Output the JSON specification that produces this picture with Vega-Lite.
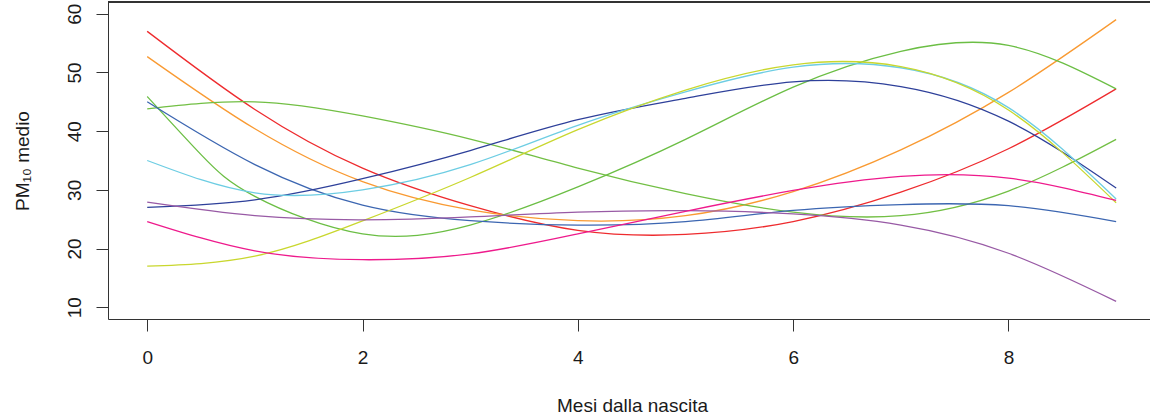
{
  "$schema": "https://vega.github.io/schema/vega-lite/v6.json",
  "width": 1042,
  "height": 317,
  "autosize": {"type": "none"},
  "padding": {"left": 108, "top": 2, "right": 0, "bottom": 100},
  "background": "white",
  "config": {
    "view": {"stroke": null},
    "font": "Liberation Sans",
    "axis": {
      "grid": false,
      "domainColor": "#333333",
      "domainWidth": 1,
      "tickColor": "#333333",
      "tickWidth": 1,
      "tickSize": 12,
      "labelColor": "#1a1a1a",
      "labelFontSize": 19,
      "titleColor": "#1a1a1a",
      "titleFontSize": 19,
      "titleFontWeight": "normal"
    }
  },
  "data": {
    "values": [
      {"serie": "c1", "mese": 0, "pm10": 57.0}, {"serie": "c1", "mese": 1, "pm10": 43.7}, {"serie": "c1", "mese": 2, "pm10": 33.7}, {"serie": "c1", "mese": 3, "pm10": 27.3}, {"serie": "c1", "mese": 4, "pm10": 23.1}, {"serie": "c1", "mese": 5, "pm10": 22.4}, {"serie": "c1", "mese": 6, "pm10": 24.6}, {"serie": "c1", "mese": 7, "pm10": 29.6}, {"serie": "c1", "mese": 8, "pm10": 37.0}, {"serie": "c1", "mese": 9, "pm10": 47.2},
      {"serie": "c2", "mese": 0, "pm10": 52.7}, {"serie": "c2", "mese": 1, "pm10": 40.4}, {"serie": "c2", "mese": 2, "pm10": 31.4}, {"serie": "c2", "mese": 3, "pm10": 26.6}, {"serie": "c2", "mese": 4, "pm10": 24.75}, {"serie": "c2", "mese": 5, "pm10": 25.6}, {"serie": "c2", "mese": 6, "pm10": 29.7}, {"serie": "c2", "mese": 7, "pm10": 36.8}, {"serie": "c2", "mese": 8, "pm10": 46.6}, {"serie": "c2", "mese": 9, "pm10": 59.0},
      {"serie": "c3", "mese": 0, "pm10": 45.9}, {"serie": "c3", "mese": 0.5, "pm10": 36.0}, {"serie": "c3", "mese": 1, "pm10": 28.9}, {"serie": "c3", "mese": 2, "pm10": 22.5}, {"serie": "c3", "mese": 3, "pm10": 24.0}, {"serie": "c3", "mese": 4, "pm10": 30.5}, {"serie": "c3", "mese": 5, "pm10": 38.6}, {"serie": "c3", "mese": 6, "pm10": 47.5}, {"serie": "c3", "mese": 7, "pm10": 53.6}, {"serie": "c3", "mese": 8, "pm10": 54.6}, {"serie": "c3", "mese": 9, "pm10": 47.2},
      {"serie": "c4", "mese": 0, "pm10": 43.8}, {"serie": "c4", "mese": 1, "pm10": 45.0}, {"serie": "c4", "mese": 2, "pm10": 42.6}, {"serie": "c4", "mese": 3, "pm10": 38.65}, {"serie": "c4", "mese": 4, "pm10": 33.7}, {"serie": "c4", "mese": 5, "pm10": 29.35}, {"serie": "c4", "mese": 6, "pm10": 26.2}, {"serie": "c4", "mese": 7, "pm10": 25.6}, {"serie": "c4", "mese": 8, "pm10": 29.8}, {"serie": "c4", "mese": 9, "pm10": 38.6},
      {"serie": "c5", "mese": 0, "pm10": 45.0}, {"serie": "c5", "mese": 1, "pm10": 34.3}, {"serie": "c5", "mese": 2, "pm10": 27.4}, {"serie": "c5", "mese": 3, "pm10": 24.75}, {"serie": "c5", "mese": 4, "pm10": 24.0}, {"serie": "c5", "mese": 5, "pm10": 24.6}, {"serie": "c5", "mese": 6, "pm10": 26.5}, {"serie": "c5", "mese": 7, "pm10": 27.5}, {"serie": "c5", "mese": 8, "pm10": 27.3}, {"serie": "c5", "mese": 9, "pm10": 24.6},
      {"serie": "c6", "mese": 0, "pm10": 27.0}, {"serie": "c6", "mese": 1, "pm10": 28.3}, {"serie": "c6", "mese": 2, "pm10": 31.9}, {"serie": "c6", "mese": 3, "pm10": 36.7}, {"serie": "c6", "mese": 4, "pm10": 41.95}, {"serie": "c6", "mese": 5, "pm10": 45.6}, {"serie": "c6", "mese": 6, "pm10": 48.4}, {"serie": "c6", "mese": 7, "pm10": 47.6}, {"serie": "c6", "mese": 8, "pm10": 41.7}, {"serie": "c6", "mese": 9, "pm10": 30.3},
      {"serie": "c7", "mese": 0, "pm10": 35.0}, {"serie": "c7", "mese": 1, "pm10": 29.5}, {"serie": "c7", "mese": 2, "pm10": 30.0}, {"serie": "c7", "mese": 3, "pm10": 34.3}, {"serie": "c7", "mese": 4, "pm10": 41.0}, {"serie": "c7", "mese": 5, "pm10": 46.7}, {"serie": "c7", "mese": 6, "pm10": 50.9}, {"serie": "c7", "mese": 7, "pm10": 50.8}, {"serie": "c7", "mese": 8, "pm10": 44.0}, {"serie": "c7", "mese": 9, "pm10": 28.45},
      {"serie": "c8", "mese": 0, "pm10": 17.0}, {"serie": "c8", "mese": 1, "pm10": 18.7}, {"serie": "c8", "mese": 2, "pm10": 24.7}, {"serie": "c8", "mese": 3, "pm10": 32.1}, {"serie": "c8", "mese": 4, "pm10": 40.25}, {"serie": "c8", "mese": 5, "pm10": 47.0}, {"serie": "c8", "mese": 6, "pm10": 51.3}, {"serie": "c8", "mese": 7, "pm10": 51.0}, {"serie": "c8", "mese": 8, "pm10": 43.6}, {"serie": "c8", "mese": 9, "pm10": 27.8},
      {"serie": "c9", "mese": 0, "pm10": 27.9}, {"serie": "c9", "mese": 1, "pm10": 25.6}, {"serie": "c9", "mese": 2, "pm10": 24.9}, {"serie": "c9", "mese": 3, "pm10": 25.4}, {"serie": "c9", "mese": 4, "pm10": 26.2}, {"serie": "c9", "mese": 5, "pm10": 26.45}, {"serie": "c9", "mese": 6, "pm10": 25.9}, {"serie": "c9", "mese": 7, "pm10": 24.0}, {"serie": "c9", "mese": 8, "pm10": 19.2}, {"serie": "c9", "mese": 9, "pm10": 11.0},
      {"serie": "c10", "mese": 0, "pm10": 24.6}, {"serie": "c10", "mese": 1, "pm10": 19.6}, {"serie": "c10", "mese": 2, "pm10": 18.1}, {"serie": "c10", "mese": 3, "pm10": 19.1}, {"serie": "c10", "mese": 4, "pm10": 22.5}, {"serie": "c10", "mese": 5, "pm10": 26.35}, {"serie": "c10", "mese": 6, "pm10": 29.9}, {"serie": "c10", "mese": 7, "pm10": 32.3}, {"serie": "c10", "mese": 8, "pm10": 32.0}, {"serie": "c10", "mese": 9, "pm10": 28.2}
    ]
  },
  "layer": [
    {
      "mark": {"type": "line", "interpolate": "natural", "strokeWidth": 1.3, "clip": true},
      "encoding": {
        "x": {
          "field": "mese",
          "type": "quantitative",
          "scale": {"domain": [-0.3643, 9.3146], "nice": false, "zero": false},
          "axis": {
            "orient": "bottom",
            "values": [0, 2, 4, 6, 8],
            "title": "Mesi dalla nascita",
            "labelBaseline": "alphabetic",
            "labelPadding": 32,
            "labelAlign": "center",
            "titleBaseline": "alphabetic",
            "titleX": 524,
            "titleY": 92,
            "titleAnchor": "middle"
          }
        },
        "y": {
          "field": "pm10",
          "type": "quantitative",
          "scale": {"domain": [8, 62], "nice": false, "zero": false},
          "axis": {
            "values": [10, 20, 30, 40, 50, 60],
            "title": "PM₁₀ medio",
            "labelAngle": -90,
            "labelAlign": "center",
            "labelBaseline": "alphabetic",
            "labelPadding": 16,
            "titleAngle": 270,
            "titleAlign": "center",
            "titleBaseline": "alphabetic",
            "titleX": -80,
            "titleY": 158.5
          }
        },
        "color": {
          "field": "serie",
          "type": "nominal",
          "legend": null,
          "scale": {
            "domain": ["c1", "c2", "c3", "c4", "c5", "c6", "c7", "c8", "c9", "c10"],
            "range": ["#EE2B2E", "#F99A32", "#6BBE44", "#72BF44", "#3C66B1", "#2E409A", "#6DCDE3", "#C9D72E", "#985AA5", "#EE1A8C"]
          }
        }
      }
    },
    {
      "mark": {"type": "rule", "color": "#333333", "strokeWidth": 1},
      "encoding": {"y": {"datum": 62}}
    }
  ]
}
